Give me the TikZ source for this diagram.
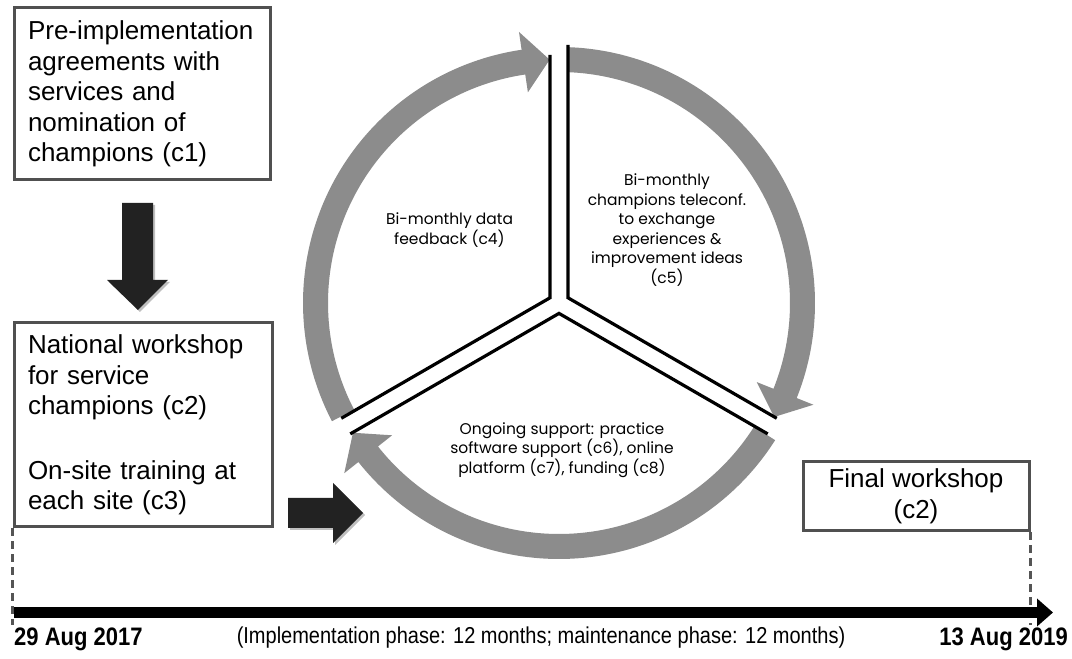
\documentclass[tikz,border=0pt]{standalone}
\usepackage{fontspec}
\setmainfont{Liberation Sans}
\newfontfamily\geofont{Poppins}
\usetikzlibrary{calc,arrows.meta}
\definecolor{boxgray}{RGB}{80,80,80}
\definecolor{arcgray}{RGB}{140,140,140}
\definecolor{blockblack}{RGB}{34,34,34}
\definecolor{dashgray}{RGB}{85,85,85}
\newcommand\arcarr[3]{%
  \fill[arcgray] ($(C)+(#1:\RadO)$) arc[start angle=#1, end angle=#2, radius=\RadO]
    -- ($(C)+(#2:\RadHo)$) -- ($(C)+(#3:\RadM)$) -- ($(C)+(#2:\RadHi)$)
    -- ($(C)+(#2:\RadI)$) arc[start angle=#2, end angle=#1, radius=\RadI] -- cycle;}
\begin{document}
\begin{tikzpicture}[x=1pt,y=1pt,
  box/.style={draw=boxgray, line width=3pt, inner sep=0pt},
  bigtext/.style={font=\fontsize{26}{30.5}\selectfont},
  circtext/.style={font=\geofont\fontsize{15.5}{19.5}\selectfont, align=center, inner sep=0pt},
  divline/.style={line width=3.2pt, line join=miter, black},
  dashline/.style={draw=dashgray, line width=3pt, dash pattern=on 8pt off 5pt},
  blockarrow/.style={fill=blockblack},
  blockshadow/.style={fill=black, opacity=0.25},
  datelabel/.style={inner sep=0pt, font=\bfseries\fontsize{22}{24}\selectfont},
  phaselabel/.style={inner sep=0pt, font=\fontsize{20}{24}\selectfont}]
\useasboundingbox (0,0) rectangle (1072,659);
\fill[white] (0,0) rectangle (1072,659);
\def\RadO{256}\def\RadI{231}\def\RadM{243.5}\def\RadHo{274}\def\RadHi{213}
\coordinate (C) at (559,356);

% boxes
\node[box, bigtext, minimum width=256pt, minimum height=172pt, text width=228pt, align=left] (b1) at (142,565)
  {Pre-implementation\\agreements with\\services and\\nomination of\\champions (c1)};
\node[box, bigtext, minimum width=258pt, minimum height=204pt, text width=230pt, align=left] (b2) at (143,234)
  {National workshop\\for service\\champions (c2)\\[34pt]On-site training at\\each site (c3)};
\node[box, bigtext, minimum width=226pt, minimum height=69pt, align=center] (b3) at (916,162.5)
  {Final workshop\\(c2)};

% block arrows
\fill[blockshadow] (124,454) -- (155,454) -- (155,377) -- (170,377) -- (140,347) -- (109,377) -- (124,377) -- cycle;
\fill[blockarrow] (122,456) -- (153,456) -- (153,379) -- (168,379) -- (138,349) -- (107,379) -- (122,379) -- cycle;
\fill[blockshadow] (290,159) -- (335,159) -- (335,174) -- (365,144) -- (335,114) -- (335,129) -- (290,129) -- cycle;
\fill[blockarrow] (288,161) -- (333,161) -- (333,176) -- (363,146) -- (333,116) -- (333,131) -- (288,131) -- cycle;

% cycle arrows
\arcarr{207.5}{98.4}{92.2}
\arcarr{88}{-21.8}{-27.9}
\arcarr{-32.4}{-141.6}{-147.8}

% dividers
\draw[divline] ($(C)+(150:10.4)+(210:241)$) -- ($(C)+(150:10.4)$) -- ++(0,243);
\draw[divline] ($(C)+(30:10.4)+(330:241)$) -- ($(C)+(30:10.4)$) -- ++(0,253);
\draw[divline] ($(C)+(270:10.4)+(210:241)$) -- ($(C)+(270:10.4)$) -- ($(C)+(270:10.4)+(330:241)$);

% circle texts
\node[circtext] (t4) at (449.5,429) {Bi-monthly data\\feedback (c4)};
\node[circtext] (t5) at (667,429) {Bi-monthly\\champions teleconf.\\to exchange\\experiences \&\\improvement ideas\\(c5)};
\node[circtext] (t6) at (562,209) {Ongoing support: practice\\software support (c6), online\\platform (c7), funding (c8)};

% timeline
\coordinate (tl0) at (14,46.5);
\coordinate (tl1) at (1053,46.5);
\draw[dashline] (b2.south west) -- (b2.south west |- 0,34);
\draw[dashline] (b3.south east) -- (b3.south east |- 0,34);
\draw[line width=11pt, -{Triangle[length=16pt,width=27pt]}] (tl0) -- (tl1);

\node[datelabel, anchor=base west] (d0) at (14,13) {\scalebox{1}[1.15]{29 Aug 2017}};
\node[datelabel, anchor=base east] (d1) at (1068,13) {\scalebox{1}[1.15]{13 Aug 2019}};
\node[phaselabel, anchor=base] (ph) at (541,15) {\scalebox{1}[1.15]{(Implementation phase: 12 months; maintenance phase: 12 months)}};
\end{tikzpicture}
\end{document}
